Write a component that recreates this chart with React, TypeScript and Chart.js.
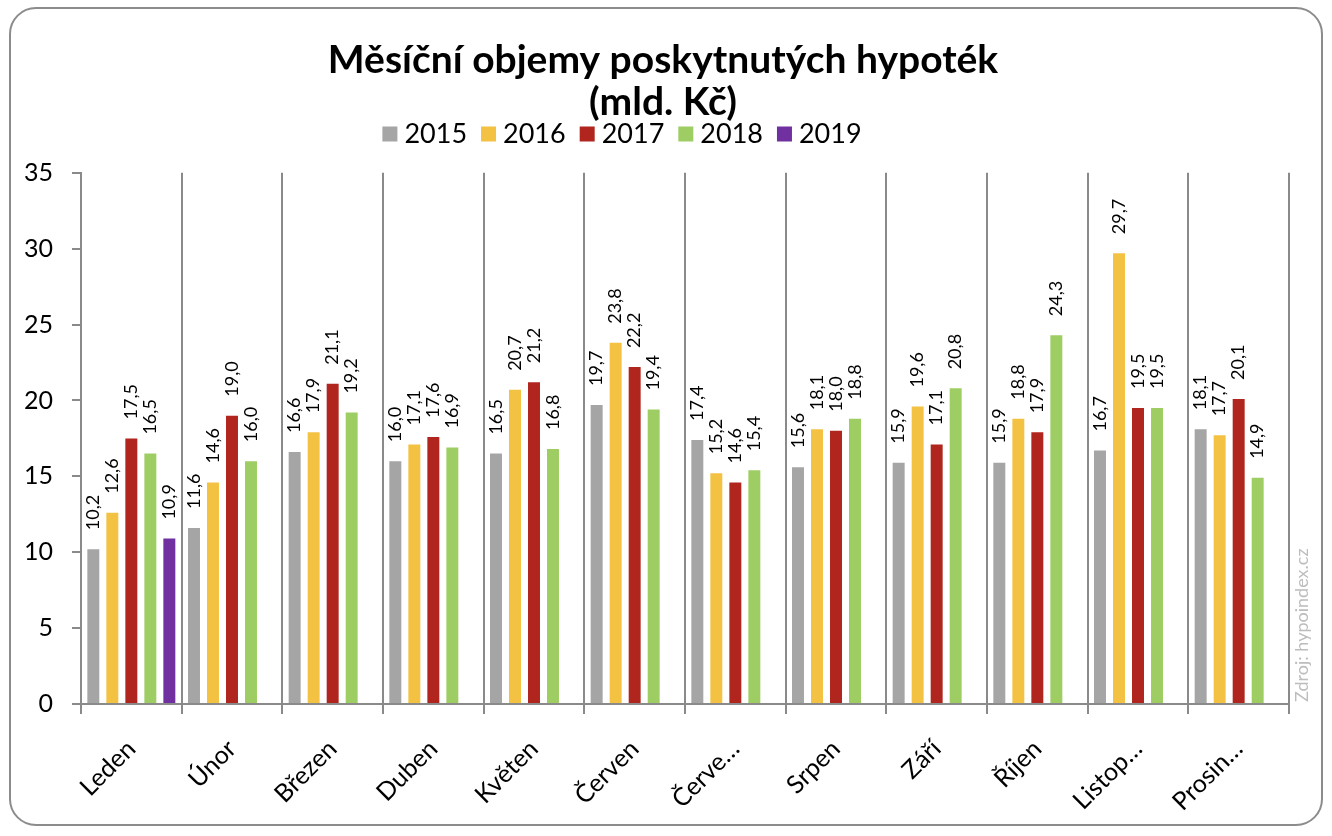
import React, { useEffect, useRef } from 'react';
import { Chart, registerables } from 'chart.js';

Chart.register(...registerables);

const categories = ['Leden', 'Únor', 'Březen', 'Duben', 'Květen', 'Červen', 'Červe…', 'Srpen', 'Září', 'Říjen', 'Listop…', 'Prosin…'];
const seriesNames = ['2015', '2016', '2017', '2018', '2019'];
const values2015 = [10.2, 11.6, 16.6, 16.0, 16.5, 19.7, 17.4, 15.6, 15.9, 15.9, 16.7, 18.1];
const values2016 = [12.6, 14.6, 17.9, 17.1, 20.7, 23.8, 15.2, 18.1, 19.6, 18.8, 29.7, 17.7];
const values2017 = [17.5, 19.0, 21.1, 17.6, 21.2, 22.2, 14.6, 18.0, 17.1, 17.9, 19.5, 20.1];
const values2018 = [16.5, 16.0, 19.2, 16.9, 16.8, 19.4, 15.4, 18.8, 20.8, 24.3, 19.5, 14.9];
const values2019 = [10.9, null, null, null, null, null, null, null, null, null, null, null];
const seriesColors = ['#A5A5A5', '#F4C242', '#B0251E', '#9ECE63', '#7030A0'];
const titleLines = ['Měsíční objemy poskytnutých hypoték', '(mld. Kč)'];
const sourceText = 'Zdroj: hypoindex.cz';
const yMin = 0;
const yMax = 35;
const yStep = 5;

const FONT = 'Lato, "Open Sans", sans-serif';
const GRID = '#8A8A8A';

const frame = {
  id: 'frame',
  beforeDraw(chart: any) {
    const ctx = chart.ctx;
    ctx.save();
    ctx.fillStyle = '#ffffff';
    ctx.fillRect(0, 0, chart.width, chart.height);
    ctx.strokeStyle = '#8C8C8C';
    ctx.lineWidth = 2;
    ctx.beginPath();
    (ctx as any).roundRect(10, 8, 1312, 817, 26);
    ctx.stroke();
    ctx.restore();
  },
};

const barLabels = {
  id: 'barLabels',
  afterDatasetsDraw(chart: any) {
    const ctx = chart.ctx;
    ctx.save();
    ctx.font = `18px ${FONT}`;
    ctx.fillStyle = '#000';
    ctx.textAlign = 'left';
    ctx.textBaseline = 'middle';
    chart.data.datasets.forEach((ds: any, di: number) => {
      const meta = chart.getDatasetMeta(di);
      meta.data.forEach((el: any, i: number) => {
        const v = ds.data[i];
        if (v === null || v === undefined) return;
        ctx.save();
        ctx.translate(el.x, el.y - 19);
        ctx.rotate(-Math.PI / 2);
        ctx.fillText(v.toFixed(1).replace('.', ','), 0, 0);
        ctx.restore();
      });
    });
    ctx.restore();
  },
};

const customLegend = {
  id: 'customLegend',
  afterDraw(chart: any) {
    const ctx = chart.ctx;
    ctx.save();
    ctx.font = `27px ${FONT}`;
    ctx.textBaseline = 'middle';
    ctx.textAlign = 'left';
    const box = 15;
    const gapBox = 7;
    const gapItem = 14;
    const items = chart.data.datasets.map((ds: any) => ({
      label: ds.label,
      color: ds.backgroundColor,
      w: ctx.measureText(ds.label).width,
    }));
    const total = items.reduce((s: number, it: any) => s + box + gapBox + it.w, 0) + gapItem * (items.length - 1);
    let x = 622 - total / 2;
    const y = 134;
    items.forEach((it: any) => {
      ctx.fillStyle = it.color;
      ctx.fillRect(x, y - box / 2, box, box);
      x += box + gapBox;
      ctx.fillStyle = '#000';
      ctx.fillText(it.label, x, y);
      x += it.w + gapItem;
    });
    ctx.restore();
  },
};

const watermark = {
  id: 'watermark',
  afterDraw(chart: any) {
    const ctx = chart.ctx;
    ctx.save();
    ctx.font = `18px ${FONT}`;
    ctx.fillStyle = '#BDBDBD';
    ctx.textAlign = 'left';
    ctx.textBaseline = 'middle';
    ctx.translate(1302, 702);
    ctx.rotate(-Math.PI / 2);
    ctx.fillText(sourceText, 0, 0);
    ctx.restore();
  },
};

export default function App() {
  const canvasRef = useRef<HTMLCanvasElement | null>(null);

  useEffect(() => {
    if (!canvasRef.current) return;
    const seriesValues = [values2015, values2016, values2017, values2018, values2019];
    const chart = new Chart(canvasRef.current, {
      type: 'bar',
      data: {
        labels: categories,
        datasets: seriesNames.map((name, i) => ({
          label: name,
          data: seriesValues[i],
          backgroundColor: seriesColors[i],
          borderWidth: 0,
          categoryPercentage: 0.944,
          barPercentage: 0.63,
          yAxisID: 'y',
        })),
      },
      options: {
        animation: false,
        responsive: true,
        maintainAspectRatio: false,
        layout: { padding: { left: 0, right: 6, top: 0, bottom: 0 } },
        plugins: {
          legend: { display: false },
          tooltip: { enabled: false },
          title: {
            display: true,
            text: titleLines,
            color: '#000',
            font: { family: FONT, size: 39, weight: 'bold', lineHeight: 1.1 },
            padding: { top: 38.5, bottom: 48.5 },
          },
        },
        scales: {
          x: {
            offset: true,
            grid: {
              offset: true,
              color: GRID,
              lineWidth: 2,
              drawOnChartArea: true,
              drawTicks: true,
              tickLength: 10,
            },
            border: { color: GRID, width: 2 },
            ticks: {
              color: '#000',
              font: { family: FONT, size: 25 },
              minRotation: 45,
              maxRotation: 45,
              autoSkip: false,
              padding: 20,
            },
            afterFit(scale: any) {
              scale.height = 132;
            },
          },
          y: {
            min: yMin,
            max: yMax,
            ticks: {
              stepSize: yStep,
              color: '#000',
              font: { family: FONT, size: 25 },
              padding: 19,
            },
            grid: {
              drawOnChartArea: false,
              drawTicks: true,
              tickLength: 9,
              color: GRID,
              lineWidth: 2,
            },
            border: { color: GRID, width: 2 },
            afterFit(scale: any) {
              scale.width = 81;
            },
          },
          spacer: {
            type: 'linear',
            position: 'right',
            min: yMin,
            max: yMax,
            grid: { display: false, drawTicks: false },
            border: { display: false },
            ticks: { display: false },
            afterFit(scale: any) {
              scale.width = 37;
            },
          },
        },
      },
      plugins: [frame, barLabels, customLegend, watermark],
    });
    return () => chart.destroy();
  }, []);

  return (
    <div style={{ position: 'absolute', left: 0, top: 0, width: 1332, height: 836, background: '#fff' }}>
      <canvas ref={canvasRef} />
    </div>
  );
}
